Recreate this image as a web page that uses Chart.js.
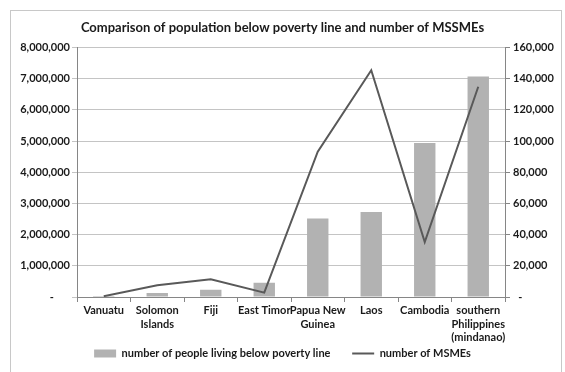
<!DOCTYPE html>
<html>
<head>
<meta charset="utf-8">
<script src="https://cdn.jsdelivr.net/npm/chart.js@4.4.1/dist/chart.umd.min.js"></script>
<style>
  html, body { margin: 0; padding: 0; background: #fff; }
  #wrap { width: 565px; height: 372px; }
</style>
</head>
<body>
<div id="wrap"><canvas id="combo"></canvas></div>
<script>
const categories = [
    'Vanuatu',
    ['Solomon', 'Islands'],
    'Fiji',
    'East Timor',
    ['Papua New', 'Guinea'],
    'Laos',
    'Cambodia',
    ['southern', 'Philippines', '(mindanao)']
];
const povertyPeople = [30000, 130000, 230000, 460000, 2520000, 2730000, 4940000, 7070000];
const msmeCount = [500, 7500, 11400, 2800, 93200, 145500, 35200, 134900];

const leftTicks = { max: 8000000, step: 1000000 };
const rightTicks = { max: 160000, step: 20000 };

const fontFamily = 'Lato, "Open Sans", sans-serif';

// frame round the whole chart, like the spreadsheet chart area
const frame = {
    id: 'frame',
    beforeDraw(chart) {
        const c = chart.ctx;
        c.save();
        c.fillStyle = '#fff';
        c.fillRect(0, 0, chart.width, chart.height);
        c.strokeStyle = '#c8c8c8';
        c.lineWidth = 1;
        c.strokeRect(10.5, 10.5, 551, 420);
        c.restore();
    }
};

const ctx = document.getElementById('combo');

new Chart(ctx, {
    data: {
        labels: categories,
        datasets: [{
            type: 'line',
            label: 'number of MSMEs',
            data: msmeCount,
            yAxisID: 'y1',
            borderColor: '#595959',
            backgroundColor: '#595959',
            borderWidth: 2,
            pointRadius: 0,
            pointStyle: 'line',
            tension: 0,
            order: 1
        }, {
            type: 'bar',
            label: 'number of people living below poverty line',
            data: povertyPeople,
            yAxisID: 'y',
            backgroundColor: '#b2b2b2',
            borderWidth: 0,
            pointStyle: 'rect',
            barPercentage: 0.4,
            categoryPercentage: 1,
            order: 2
        }]
    },
    options: {
        responsive: true,
        maintainAspectRatio: false,
        animation: false,
        layout: { padding: { left: 0, right: 0, top: 0, bottom: 3 } },
        plugins: {
            title: {
                display: true,
                text: 'Comparison of population below poverty line and number of MSSMEs',
                color: '#1a1a1a',
                font: { family: fontFamily, size: 13, weight: 'bold' },
                padding: { top: 20, bottom: 12 }
            },
            legend: {
                position: 'bottom',
                reverse: true,
                labels: {
                    usePointStyle: true,
                    pointStyleWidth: 22,
                    boxHeight: 8,
                    padding: 3,
                    color: '#1a1a1a',
                    font: { family: fontFamily, size: 11, weight: 'bold' },
                    generateLabels(chart) {
                        const items = Chart.defaults.plugins.legend.labels.generateLabels(chart);
                        items.forEach(it => {
                            if (it.datasetIndex === 1) it.text = it.text + '       ';
                        });
                        return items;
                    }
                }
            },
            tooltip: { enabled: false }
        },
        scales: {
            x: {
                grid: {
                    display: true,
                    drawOnChartArea: false,
                    offset: true,
                    tickLength: 5,
                    color: '#868686'
                },
                border: { color: '#868686' },
                ticks: {
                    autoSkip: false,
                    maxRotation: 0,
                    padding: 2,
                    color: '#1a1a1a',
                    font: { family: fontFamily, size: 11, weight: 'bold', lineHeight: 1.22 }
                },
                afterFit(scale) { scale.height = 48; }
            },
            y: {
                position: 'left',
                min: 0,
                max: leftTicks.max,
                grid: { color: '#c4c4c4', tickLength: 5 },
                border: { color: '#868686' },
                ticks: {
                    stepSize: leftTicks.step,
                    padding: 2,
                    color: '#1a1a1a',
                    font: { family: fontFamily, size: 11, weight: 'bold' },
                    callback: v => v === 0 ? '-      ' : v.toLocaleString('en-US')
                },
                afterFit(scale) { scale.width = 77; }
            },
            y1: {
                position: 'right',
                min: 0,
                max: rightTicks.max,
                grid: { drawOnChartArea: false, tickLength: 5, color: '#868686' },
                border: { color: '#868686' },
                ticks: {
                    stepSize: rightTicks.step,
                    padding: 3,
                    color: '#1a1a1a',
                    font: { family: fontFamily, size: 11, weight: 'bold' },
                    callback: v => v === 0 ? '  -' : v.toLocaleString('en-US')
                },
                afterFit(scale) { scale.width = 60; }
            }
        }
    },
    plugins: [frame]
});
</script>
</body>
</html>
